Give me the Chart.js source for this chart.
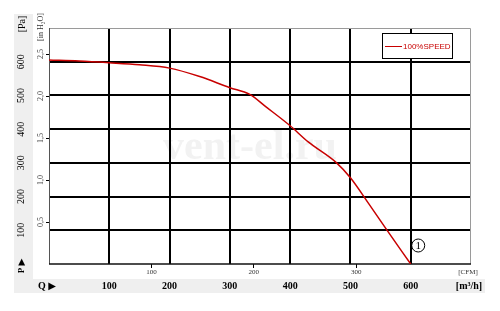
<!DOCTYPE html>
<html>
<head>
<meta charset="utf-8">
<script src="https://cdn.jsdelivr.net/npm/chart.js@4.4.1/dist/chart.umd.min.js"></script>
<style>
  html, body { margin: 0; padding: 0; background: #fff; }
  canvas { display: block; }
</style>
</head>
<body>
<canvas id="fanchart" width="500" height="311"></canvas>
<script>
// fan curve (Q in m3/h, P in Pa)
var flowM3h    = [0,   50,  100, 150, 200, 250, 300, 333, 360, 400, 430, 477, 500, 530, 560, 600];
var pressurePa = [605, 602, 597, 591, 581, 556, 523, 503, 466, 410, 362, 300, 256, 180, 102, 0];
var seriesLabel = "100%SPEED";

// tick labels
var qTicks = [100, 200, 300, 400, 500, 600];
var paTicks = [100, 200, 300, 400, 500, 600];
var cfmTicks = [100, 200, 300];
var inH2OTicks = [0.5, 1.0, 1.5, 2.0, 2.5];
var inH2OLabels = ["0,5", "1,0", "1,5", "2,0", "2,5"];

var M3H_PER_CFM = 1.699;
var PA_PER_INH2O = 249.089;
var Q_MAX = 700, P_MAX = 700;

var serif = "'Liberation Serif', 'DejaVu Serif', serif";

function fixedTicks(list) {
    return function (scale) {
        scale.ticks = list.map(function (v) { return { value: v }; });
    };
}

// gray bands, watermark and unit captions
var decorPlugin = {
    id: "decor",
    beforeDraw: function (chart) {
        var ctx = chart.ctx;
        ctx.save();
        ctx.fillStyle = "#fff";
        ctx.fillRect(0, 0, chart.width, chart.height);
        ctx.fillStyle = "#efefef";
        ctx.fillRect(14, 14, 19, 265);
        ctx.fillRect(14, 279, 471, 14);

        // watermark
        ctx.fillStyle = "#f2f2f2";
        ctx.font = "bold 42px " + serif;
        ctx.textAlign = "center";
        ctx.textBaseline = "middle";
        ctx.fillText("vent-el.ru", 250, 148);

        // captions
        ctx.fillStyle = "#000";
        ctx.font = "bold 10px " + serif;
        ctx.textAlign = "left";
        ctx.fillText("Q \u25B6", 38, 286);
        ctx.textAlign = "center";
        ctx.fillText("[m\u00B3/h]", 469, 286);
        ctx.font = "7px " + serif;
        ctx.fillStyle = "#333";
        ctx.fillText("[CFM]", 468, 272);

        ctx.save();
        ctx.translate(22, 24);
        ctx.rotate(-Math.PI / 2);
        ctx.fillStyle = "#000";
        ctx.font = "10px " + serif;
        ctx.fillText("[Pa]", 0, 0);
        ctx.restore();

        ctx.save();
        ctx.translate(22, 266);
        ctx.rotate(-Math.PI / 2);
        ctx.fillStyle = "#000";
        ctx.font = "bold 9px " + serif;
        ctx.fillText("P \u25B6", 0, 0);
        ctx.restore();

        ctx.save();
        ctx.translate(41, 27);
        ctx.rotate(-Math.PI / 2);
        ctx.fillStyle = "#333";
        ctx.font = "8px " + serif;
        ctx.fillText("[in H\u2082O]", 0, 0);
        ctx.restore();

        ctx.restore();
    },
    beforeDatasetsDraw: function (chart) {
        var a = chart.chartArea, ctx = chart.ctx;
        ctx.save();
        ctx.lineWidth = 1;
        ctx.strokeStyle = "#9a9a9a";
        ctx.beginPath();
        ctx.moveTo(a.left, a.top + 0.5);
        ctx.lineTo(a.right - 0.5, a.top + 0.5);
        ctx.lineTo(a.right - 0.5, a.bottom);
        ctx.stroke();
        ctx.strokeStyle = "#555";
        ctx.beginPath();
        ctx.moveTo(a.left + 0.5, a.top);
        ctx.lineTo(a.left + 0.5, a.bottom);
        ctx.stroke();
        ctx.strokeStyle = "#111";
        ctx.lineWidth = 1.5;
        ctx.beginPath();
        ctx.moveTo(a.left, a.bottom);
        ctx.lineTo(a.right, a.bottom);
        ctx.stroke();
        ctx.restore();
    },
    afterDatasetsDraw: function (chart) {
        var ctx = chart.ctx;
        var ds = chart.data.datasets[0];
        ctx.save();
        // legend box
        ctx.fillStyle = "#fff";
        ctx.fillRect(382, 33, 71, 26);
        ctx.strokeStyle = "#000";
        ctx.lineWidth = 1;
        ctx.strokeRect(382.5, 33.5, 70, 25);
        ctx.strokeStyle = ds.borderColor;
        ctx.beginPath();
        ctx.moveTo(385, 46.5);
        ctx.lineTo(402, 46.5);
        ctx.stroke();
        ctx.fillStyle = ds.borderColor;
        ctx.font = "8px 'Liberation Sans', Arial, sans-serif";
        ctx.textAlign = "left";
        ctx.textBaseline = "middle";
        ctx.fillText(ds.label, 403, 46.5);

        // curve number
        var cx = chart.scales.x.getPixelForValue(flowM3h[flowM3h.length - 1]) + 7;
        var cy = chart.scales.y.getPixelForValue(0) - 19;
        ctx.strokeStyle = "#000";
        ctx.beginPath();
        ctx.arc(cx + 0.5, cy + 0.5, 6.5, 0, Math.PI * 2);
        ctx.stroke();
        ctx.fillStyle = "#000";
        ctx.font = "11px " + serif;
        ctx.textAlign = "center";
        ctx.fillText("1", cx + 0.5, cy + 1);
        ctx.restore();
    }
};

var points = flowM3h.map(function (q, i) { return { x: q, y: pressurePa[i] }; });

new Chart(document.getElementById("fanchart").getContext("2d"), {
    type: "line",
    data: {
        datasets: [{
            label: seriesLabel,
            data: points,
            borderColor: "#c80000",
            borderWidth: 1.5,
            pointRadius: 0,
            fill: false,
            cubicInterpolationMode: "monotone"
        }]
    },
    options: {
        responsive: false,
        animation: false,
        layout: { padding: { left: 14, right: 29, top: 28, bottom: 18 } },
        plugins: { legend: { display: false }, tooltip: { enabled: false } },
        scales: {
            x: {
                type: "linear", position: "bottom", weight: 2,
                min: 0, max: Q_MAX,
                afterBuildTicks: fixedTicks(qTicks),
                afterFit: function (s) { s.height = 15; },
                ticks: { color: "#000", padding: 2, font: { family: serif, size: 10, weight: "bold" } },
                grid: { color: "#000", lineWidth: 2, drawTicks: false },
                border: { display: false }
            },
            xcfm: {
                type: "linear", position: "bottom", weight: 1,
                min: 0, max: Q_MAX / M3H_PER_CFM,
                afterBuildTicks: fixedTicks(cfmTicks),
                afterFit: function (s) { s.height = 14; },
                ticks: { color: "#333", padding: 0, font: { family: serif, size: 7 } },
                grid: { drawOnChartArea: false, tickLength: 4, color: "#000", tickColor: "#000" },
                border: { display: false }
            },
            y: {
                type: "linear", position: "left", weight: 2,
                min: 0, max: P_MAX,
                afterBuildTicks: fixedTicks(paTicks),
                afterFit: function (s) { s.width = 19; },
                ticks: { color: "#000", padding: 4, minRotation: 90, maxRotation: 90, crossAlign: "center",
                         font: { family: serif, size: 10 } },
                grid: { color: "#000", lineWidth: 2, drawTicks: false },
                border: { display: false }
            },
            yin: {
                type: "linear", position: "left", weight: 1,
                min: 0, max: P_MAX / PA_PER_INH2O,
                afterBuildTicks: fixedTicks(inH2OTicks),
                afterFit: function (s) { s.width = 16; },
                ticks: { color: "#444", padding: 0, minRotation: 90, maxRotation: 90, crossAlign: "center",
                         font: { family: serif, size: 8 },
                         callback: function (v, i) { return inH2OLabels[i]; } },
                grid: { drawOnChartArea: false, tickLength: 3, color: "#000", tickColor: "#000" },
                border: { display: false }
            }
        }
    },
    plugins: [decorPlugin]
});
</script>
</body>
</html>
